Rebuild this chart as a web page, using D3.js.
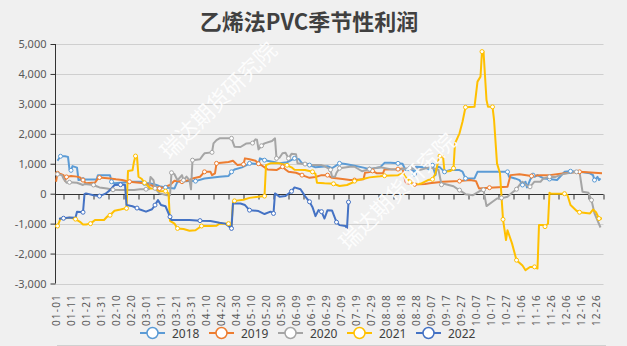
<!DOCTYPE html>
<html>
<head>
<meta charset="utf-8">
<script src="https://cdn.jsdelivr.net/npm/d3@7"></script>
<style>
  body { margin: 0; background: #f0f0f0; }
  svg { display: block; }
</style>
</head>
<body>
<svg id="chart" width="627" height="346"></svg>
<script>
// categories : jours d'une année bissextile (index 0 = 01-01)
const dates = d3.timeDays(new Date(2020, 0, 1), new Date(2021, 0, 1)).map(d3.timeFormat("%m-%d"));
const xLabelDays = d3.range(0, 366, 10);
const yTicks = [-3000, -2000, -1000, 0, 1000, 2000, 3000, 4000, 5000];
const years = ["2018", "2019", "2020", "2021", "2022"];
const couleurs = ["#5b9bd5", "#ed7d31", "#a5a5a5", "#ffc000", "#4472c4"];

// séries : [index du jour, valeur]
const s2018 = [[1,1100],[3,1250],[6,1250],[8,1230],[9,800],[10,780],[11,920],[14,870],[15,455],[18,470],[27,470],[28,620],
  [36,620],[37,400],[39,345],[51,400],[58,400],[59,345],[63,345],[67,290],[69,250],[73,210],[79,175],[81,400],[89,420],
  [93,420],[99,510],[109,565],[115,590],[117,730],[119,810],[124,880],[127,955],[129,1013],[134,990],[135,1000],[136,1180],
  [139,1120],[146,1050],[149,1013],[154,1050],[159,1180],[162,1150],[164,1013],[168,990],[169,955],[173,880],[181,920],
  [184,850],[189,1013],[193,990],[199,935],[205,870],[209,820],[216,880],[219,1030],[223,1030],[228,1013],[231,1000],
  [233,790],[238,780],[239,655],[240,900],[246,880],[249,800],[251,950],[253,620],[254,900],[256,880],[259,730],[263,790],
  [269,790],[271,740],[273,510],[279,510],[281,730],[289,730],[301,730],[302,565],[306,510],[309,455],[311,290],[313,400],
  [314,210],[316,455],[318,620],[319,565],[321,620],[325,510],[329,490],[334,455],[336,565],[339,730],[343,750],[349,730],
  [356,680],[358,620],[359,455],[361,560],[362,455],[363,510]];

const s2019 = [[0,400],[1,680],[3,660],[5,620],[6,430],[7,560],[10,590],[14,570],[16,540],[18,455],[20,345],[26,370],
  [28,510],[29,540],[36,510],[40,480],[44,455],[49,400],[54,370],[59,345],[63,290],[69,175],[73,230],[76,290],[79,430],
  [84,400],[89,455],[91,510],[96,565],[99,730],[103,730],[104,620],[106,680],[107,1013],[115,1060],[118,1100],[121,955],
  [125,980],[126,1180],[129,1150],[133,1100],[135,1000],[137,950],[141,810],[147,790],[151,900],[153,810],[155,730],
  [160,700],[164,620],[169,530],[173,560],[177,620],[181,620],[184,530],[191,490],[196,460],[199,455],[205,480],[206,700],
  [209,720],[211,760],[214,680],[218,680],[219,810],[228,820],[231,840],[233,400],[234,345],[239,310],[246,320],[249,345],
  [258,400],[269,420],[276,455],[280,420],[282,175],[289,200],[301,230],[303,620],[309,650],[317,590],[323,620],[329,620],
  [339,680],[349,730],[359,700],[364,680]];

const s2020 = [[0,700],[1,650],[4,620],[5,500],[7,365],[9,380],[14,365],[18,290],[19,320],[25,290],[27,250],[29,210],
  [34,175],[38,130],[43,120],[52,120],[56,145],[60,150],[62,150],[63,560],[65,450],[66,180],[69,10],[74,-50],[76,-50],
  [77,700],[79,650],[81,450],[84,620],[85,450],[87,570],[89,455],[90,145],[91,1120],[96,1150],[98,1290],[99,1350],
  [104,1380],[105,1680],[107,1790],[109,1850],[117,1850],[119,1570],[123,1560],[127,1680],[131,1690],[133,1815],
  [134,1800],[135,1480],[137,1600],[139,1680],[144,1760],[146,1850],[147,1180],[149,1200],[151,1350],[153,1370],
  [155,1180],[157,1330],[160,1320],[161,1013],[166,990],[169,955],[177,955],[179,920],[183,800],[184,565],[186,565],
  [187,700],[189,850],[196,900],[199,900],[204,750],[209,820],[216,880],[223,820],[229,810],[236,860],[243,800],[249,880],
  [255,800],[257,300],[258,340],[265,250],[268,145],[269,120],[273,-15],[278,-50],[283,100],[285,130],[287,-415],
  [291,-270],[294,-160],[297,-140],[299,-125],[301,-100],[304,30],[307,150],[309,290],[311,400],[313,300],[316,230],
  [319,400],[323,400],[325,510],[329,565],[333,560],[338,655],[343,700],[347,730],[349,730],[351,65],[355,30],[357,-215],
  [359,-660],[363,-1130]];

const s2021 = [[0,-1100],[1,-1080],[3,-830],[6,-820],[9,-800],[13,-850],[16,-940],[18,-1030],[20,-1030],[23,-1000],
  [26,-880],[32,-880],[34,-770],[36,-720],[39,-570],[43,-530],[46,-490],[47,-490],[48,755],[51,780],[52,1070],[53,1257],
  [54,1230],[55,565],[57,500],[59,365],[63,175],[66,175],[69,85],[73,85],[75,10],[76,-905],[79,-1000],[81,-1160],
  [85,-1180],[89,-1240],[93,-1220],[97,-1080],[103,-1080],[107,-1070],[109,-1000],[115,-1000],[116,-1080],[117,-1050],
  [118,-270],[119,-240],[125,-200],[129,-140],[135,-100],[139,-80],[140,955],[143,1013],[149,1013],[154,950],[157,880],
  [159,800],[166,790],[171,730],[173,660],[174,365],[179,345],[185,330],[189,255],[194,290],[198,380],[199,420],
  [206,510],[209,545],[216,580],[219,600],[228,620],[231,680],[233,560],[236,400],[238,320],[243,330],[248,455],
  [251,480],[253,680],[254,900],[255,1120],[256,1257],[258,1257],[259,730],[263,760],[265,850],[266,1680],[269,2017],
  [271,2405],[273,2886],[279,2900],[281,3743],[283,3910],[284,4746],[285,4746],[287,3130],[288,2900],[291,2900],
  [292,2485],[294,1013],[296,680],[298,-860],[300,-1550],[301,-1220],[304,-1660],[307,-2220],[311,-2400],[313,-2555],
  [316,-2450],[319,-2445],[321,-2500],[322,-1050],[325,-1050],[326,-1100],[328,-1000],[329,30],[330,0],[339,0],
  [341,-50],[343,-380],[347,-570],[349,-620],[356,-660],[358,-530],[360,-620],[362,-830],[364,-830]];

const s2022 = [[2,-840],[5,-820],[9,-795],[13,-800],[14,-600],[18,-620],[19,-15],[20,10],[25,-50],[29,-80],[33,0],
  [36,120],[39,290],[43,300],[46,300],[47,-380],[51,-420],[54,-480],[56,-530],[60,-600],[64,-520],[66,-380],[68,-215],
  [70,-380],[73,-420],[76,-770],[77,-880],[83,-880],[89,-880],[96,-900],[103,-910],[109,-970],[113,-1000],[117,-1160],
  [118,-330],[123,-330],[126,-380],[129,-550],[135,-580],[139,-680],[143,-600],[145,-660],[146,10],[149,-100],[153,-80],
  [157,80],[159,210],[163,150],[166,-80],[169,-270],[171,-450],[173,-750],[175,-550],[177,-600],[179,-830],[181,-550],
  [184,-560],[187,-950],[189,-1050],[193,-1080],[194,-1160],[195,-280]];

const series = [s2018, s2019, s2020, s2021, s2022];

let svg = d3.select("#chart");
let police = "'Noto Sans CJK SC', 'Noto Sans', sans-serif";

let x = d3.scaleLinear().domain([0, 365]).range([56, 603.5]);
let y = d3.scaleLinear().domain([-3000, 5000]).range([283.5, 44]);
let fmt = d3.formatLocale({decimal: ".", thousands: ",", grouping: [3], currency: ["", ""], minus: "-"}).format(",");

// titre
svg.append("text")
  .attr("x", 309).attr("y", 30)
  .attr("text-anchor", "middle")
  .attr("font-family", police)
  .attr("font-weight", "bold")
  .attr("font-size", "22px")
  .attr("fill", "#404040")
  .text("乙烯法PVC季节性利润");

// grille horizontale
svg.append("g").selectAll("line")
  .data(yTicks)
  .join("line")
  .attr("x1", 55.5).attr("x2", 603.5)
  .attr("y1", d => Math.round(y(d)) + 0.5)
  .attr("y2", d => Math.round(y(d)) + 0.5)
  .attr("stroke", "#cfcfcf");

// axe des ordonnées
let axeY = svg.append("g")
  .attr("transform", "translate(55.5,0)")
  .call(d3.axisLeft(y).tickValues(yTicks).tickSize(5).tickPadding(4).tickFormat(fmt));
axeY.select(".domain").attr("stroke", "#333").attr("d", `M0,${y(5000)}V${y(-3000)}`);
axeY.selectAll(".tick line").attr("stroke", "#333");
axeY.selectAll(".tick text").attr("font-family", "'Noto Sans', sans-serif").attr("font-size", "11px").attr("fill", "#595959");

// axe des abscisses (à zéro)
let axeX = svg.append("g")
  .attr("transform", `translate(0,${Math.round(y(0)) + 0.5})`)
  .call(d3.axisBottom(x).tickValues(d3.range(5, 366, 10)).tickSize(5).tickFormat(""));
axeX.select(".domain").attr("stroke", "#333").attr("d", "M55.5,0H603.5");
axeX.selectAll(".tick line").attr("stroke", "#333");

// étiquettes des dates
svg.append("g").selectAll("text")
  .data(xLabelDays)
  .join("text")
  .attr("transform", d => `translate(${x(d) + 3.5},294) rotate(-90)`)
  .attr("text-anchor", "end")
  .attr("font-family", "'Noto Sans', sans-serif")
  .attr("font-size", "10px")
  .attr("letter-spacing", "1.2px")
  .attr("fill", "#595959")
  .text(d => dates[d]);

// courbes
let ligne = d3.line().x(d => x(d[0])).y(d => y(d[1]));
series.forEach(function (s, i) {
  svg.append("path")
    .datum(s)
    .attr("d", ligne)
    .attr("fill", "none")
    .attr("stroke", couleurs[i])
    .attr("stroke-width", 2)
    .attr("stroke-linejoin", "round");
});

// petits ronds sur les courbes (un point sur quatre)
series.forEach(function (s, i) {
  svg.append("g").selectAll("circle")
    .data(s.filter((d, j) => j % 4 === 1))
    .join("circle")
    .attr("cx", d => x(d[0]))
    .attr("cy", d => y(d[1]))
    .attr("r", 2)
    .attr("fill", "#fff")
    .attr("stroke", couleurs[i])
    .attr("stroke-width", 1);
});

// filigrane
[[217, 99], [396, 190]].forEach(function (p) {
  svg.append("text")
    .attr("transform", `translate(${p[0]},${p[1]}) rotate(-45)`)
    .attr("text-anchor", "middle")
    .attr("dominant-baseline", "central")
    .attr("font-family", police)
    .attr("font-size", "22px")
    .attr("fill", "#fff")
    .attr("opacity", 0.9)
    .text("瑞达期货研究院");
});

// légende
let legende = svg.append("g").selectAll("g")
  .data(years)
  .join("g")
  .attr("transform", (d, i) => `translate(${140 + i * 69},333)`);
legende.append("line")
  .attr("x1", 0).attr("x2", 25)
  .attr("stroke", (d, i) => couleurs[i]).attr("stroke-width", 2);
legende.append("circle")
  .attr("cx", 12.5).attr("r", 5.5)
  .attr("fill", "#fff")
  .attr("stroke", (d, i) => couleurs[i]).attr("stroke-width", 1.5);
legende.append("text")
  .attr("x", 32).attr("y", 4.5)
  .attr("font-family", "'Noto Sans', sans-serif")
  .attr("font-size", "12px")
  .attr("fill", "#404040")
  .text(d => d);

// trait du bas
svg.append("line")
  .attr("x1", 57).attr("x2", 606)
  .attr("y1", 345.5).attr("y2", 345.5)
  .attr("stroke", "#d0d0d0");
</script>
</body>
</html>
